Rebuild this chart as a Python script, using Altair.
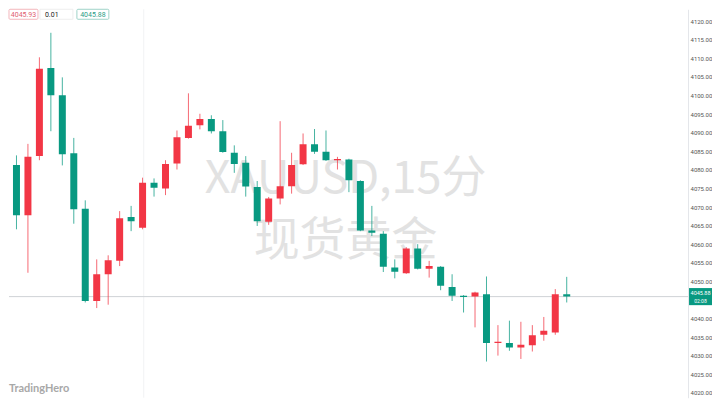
import altair as alt
import pandas as pd

# OHLC values (15-minute XAUUSD candles)
opens = [4044.0, 4081.3, 4067.8, 4083.7, 4107.4, 4100.1, 4084.5, 4069.5, 4044.7, 4051.9,
         4055.5, 4067.3, 4064.4, 4076.5, 4075.0, 4081.7, 4088.6, 4092.0, 4093.7, 4090.4,
         4084.6, 4081.9, 4075.4, 4066.0, 4072.3, 4075.6, 4081.5, 4086.9, 4084.9, 4082.6,
         4082.8, 4077.0, 4063.7, 4062.8, 4053.7, 4052.2, 4058.8, 4053.4, 4053.9, 4048.5,
         4046.1, 4045.9, 4046.5, 4033.4, 4033.4, 4032.2, 4032.8, 4035.6, 4036.2, 4046.5]
highs = [4086.4, 4083.9, 4087.0, 4110.3, 4116.9, 4104.9, 4088.6, 4071.8, 4055.9, 4057.0,
         4068.9, 4070.3, 4077.9, 4077.7, 4082.6, 4090.6, 4100.6, 4095.1, 4094.7, 4093.4,
         4086.6, 4083.7, 4077.0, 4072.7, 4093.1, 4084.6, 4089.8, 4091.0, 4090.6, 4083.5,
         4083.0, 4077.2, 4070.3, 4063.5, 4055.9, 4059.2, 4060.0, 4055.5, 4054.1, 4051.9,
         4046.3, 4047.2, 4051.3, 4038.2, 4039.4, 4039.1, 4038.2, 4040.4, 4047.9, 4051.2]
lows = [4042.8, 4064.0, 4052.3, 4082.6, 4090.4, 4081.2, 4065.5, 4044.3, 4042.8, 4043.7,
        4054.1, 4063.5, 4064.0, 4072.8, 4073.2, 4080.1, 4088.4, 4090.9, 4089.8, 4084.6,
        4079.2, 4072.8, 4064.9, 4065.2, 4070.7, 4073.6, 4081.3, 4084.3, 4082.4, 4080.1,
        4074.0, 4063.5, 4062.2, 4052.5, 4050.8, 4052.0, 4053.2, 4051.0, 4047.6, 4044.7,
        4041.6, 4037.6, 4028.4, 4030.0, 4031.3, 4029.1, 4031.1, 4034.0, 4035.6, 4044.3]
closes = [4081.3, 4067.8, 4083.5, 4107.2, 4100.1, 4084.2, 4069.4, 4044.7, 4051.9, 4055.7,
          4067.0, 4066.2, 4076.5, 4075.2, 4081.6, 4088.8, 4091.9, 4093.7, 4090.4, 4084.8,
          4081.6, 4075.5, 4066.2, 4072.3, 4075.6, 4081.3, 4086.9, 4084.9, 4082.6, 4082.9,
          4077.2, 4063.7, 4063.1, 4053.9, 4052.6, 4058.8, 4053.4, 4054.1, 4048.8, 4046.1,
          4045.8, 4047.0, 4033.4, 4033.7, 4032.2, 4032.9, 4035.5, 4036.7, 4046.5, 4045.88]

# 4045.00 is hidden behind the last-price badge in the reference
tick_values = [v for v in range(4020, 4125, 5) if v != 4045]
last_price = 4045.88
prev_label = "4045.93"
change_label = "0.01"
last_label = "4045.88"
time_label = "02:08"
session_break = 12.1
watermark_1 = "XAUUSD,15分"
watermark_2 = "现货黄金"
logo = "TradingHero"

RED = "#F23645"
GREEN = "#089981"
PLOT_W = 680
PLOT_H = 389

df = pd.DataFrame({
    "i": list(range(len(opens))),
    "open": opens, "high": highs, "low": lows, "close": closes,
})
df["dir"] = ["up" if c >= o else "down" for o, c in zip(opens, closes)]

xscale = alt.Scale(domain=[0.348, 0.348 + PLOT_W / 11.48], nice=False, zero=False, padding=0)
yscale = alt.Scale(domain=[4018.66, 4123.23], nice=False, zero=False, padding=0)
yaxis = alt.Axis(orient="right", values=tick_values, format=".2f",
                 labelFontSize=6, labelColor="#555555", labelFont="Roboto",
                 ticks=False, labelPadding=2, grid=False, title=None,
                 domainColor="#e4e6ea")
color = alt.Color("dir:N", scale=alt.Scale(domain=["up", "down"], range=[RED, GREEN]), legend=None)

base = alt.Chart(df).encode(x=alt.X("i:Q", scale=xscale, axis=None))

wicks = base.mark_rule(strokeWidth=1, clip=True, opacity=0.75).encode(
    y=alt.Y("low:Q", scale=yscale, axis=yaxis, title=None),
    y2="high:Q",
    color=color,
)
bodies = base.mark_bar(size=7, clip=True).encode(
    y=alt.Y("open:Q", scale=yscale, axis=yaxis, title=None), y2="close:Q", color=color)

sep = alt.Chart(pd.DataFrame({"b": [session_break]})).mark_rule(
    color="#f1f2f4", strokeWidth=1).encode(x=alt.X("b:Q", scale=xscale, axis=None))

pdf = pd.DataFrame({"p": [last_price], "lab": [last_label], "t": [time_label]})
pline = alt.Chart(pdf).mark_rule(color="#cfd2d6", strokeWidth=1).encode(
    y=alt.Y("p:Q", scale=yscale, axis=yaxis, title=None))

badge = alt.Chart(pdf).transform_calculate(
    top="datum.p + 2.3", bot="datum.p - 2.3").mark_rect(color=GREEN, clip=False).encode(
    y=alt.Y("top:Q", scale=yscale, axis=yaxis, title=None), y2="bot:Q",
    x=alt.value(PLOT_W + 1), x2=alt.value(PLOT_W + 24))
badge_t1 = alt.Chart(pdf).mark_text(color="white", fontSize=5.5, font="Roboto", dy=-3.5,
                                    align="center", baseline="middle").encode(
    y=alt.Y("p:Q", scale=yscale, axis=yaxis, title=None), x=alt.value(PLOT_W + 12.5), text="lab:N")
badge_t2 = alt.Chart(pdf).mark_text(color="white", fontSize=5, font="Roboto", dy=4,
                                    align="center", baseline="middle").encode(
    y=alt.Y("p:Q", scale=yscale, axis=yaxis, title=None), x=alt.value(PLOT_W + 12.5), text="t:N")

wm = pd.DataFrame({"a": [watermark_1], "b": [watermark_2]})
wm1 = alt.Chart(wm).mark_text(fontSize=45, color="#e2e2e2", font="Noto Sans CJK SC",
                              align="center", baseline="middle").encode(
    x=alt.value(337), y=alt.value(170), text="a:N")
wm2 = alt.Chart(wm).mark_text(fontSize=46, color="#e2e2e2", font="Noto Sans CJK SC",
                              align="center", baseline="middle").encode(
    x=alt.value(337), y=alt.value(232), text="b:N")

lg = pd.DataFrame({"l": [logo]})
logo_t = alt.Chart(lg).mark_text(fontSize=11, color="#a8a8a8", font="Lato", fontWeight="bold",
                                 align="left", baseline="middle").encode(
    x=alt.value(0), y=alt.value(380), text="l:N")

hdr = pd.DataFrame({"a": [prev_label], "b": [change_label], "c": [last_label]})
box1 = alt.Chart(hdr).mark_rect(fill="white", stroke="#f3b6bc", strokeWidth=1, cornerRadius=1).encode(
    x=alt.value(0), x2=alt.value(29), y=alt.value(0), y2=alt.value(10))
txt1 = alt.Chart(hdr).mark_text(fontSize=7, color="#e0606e", font="Roboto", align="center",
                                baseline="middle").encode(x=alt.value(14.5), y=alt.value(5.5), text="a:N")
box2 = alt.Chart(hdr).mark_rect(fill="white", stroke="#eeeeee", strokeWidth=1).encode(
    x=alt.value(31), x2=alt.value(64), y=alt.value(0), y2=alt.value(10))
txt2 = alt.Chart(hdr).mark_text(fontSize=7, color="#222222", font="Roboto", align="left",
                                baseline="middle").encode(x=alt.value(36), y=alt.value(5.5), text="b:N")
box3 = alt.Chart(hdr).mark_rect(fill="white", stroke="#9fd3c9", strokeWidth=1, cornerRadius=1).encode(
    x=alt.value(68), x2=alt.value(100), y=alt.value(0), y2=alt.value(10))
txt3 = alt.Chart(hdr).mark_text(fontSize=7, color="#2a9d86", font="Roboto", align="center",
                                baseline="middle").encode(x=alt.value(84), y=alt.value(5.5), text="c:N")

chart = alt.layer(
    wm1, wm2, sep, pline, wicks, bodies, badge, badge_t1, badge_t2, logo_t,
    box1, txt1, box2, txt2, box3, txt3
).properties(
    width=PLOT_W, height=PLOT_H,
    padding={"left": 0, "top": 0, "right": 0, "bottom": 0},
    background="white",
).configure_view(stroke=None)

chart.save("out.html", embed_options={"renderer": "svg", "actions": False})
